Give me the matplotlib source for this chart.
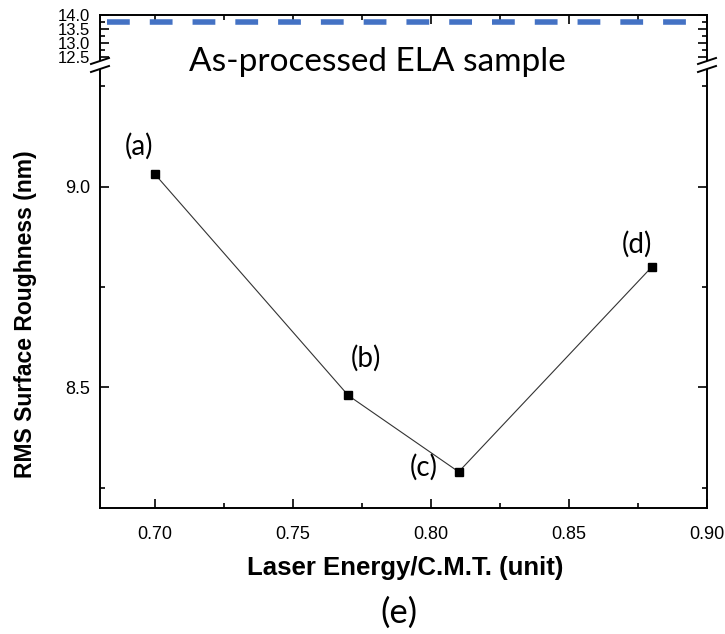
import matplotlib
matplotlib.use("Agg")
import matplotlib.pyplot as plt
from matplotlib.lines import Line2D
from matplotlib.patches import Polygon

# Roughness measurements
energy = [0.70, 0.77, 0.81, 0.88]
roughness = [9.03, 8.48, 8.29, 8.80]
point_labels = ["(a)", "(b)", "(c)", "(d)"]
label_offsets = [(-16, 28), (18, 37), (-35, 5), (-15, 23)]  # pixels

# Reference level of the as-processed sample
as_processed = 13.75

x_ticks = [0.70, 0.75, 0.80, 0.85, 0.90]
x_tick_labels = ["0.70", "0.75", "0.80", "0.85", "0.90"]
y_ticks_low = [8.5, 9.0]
y_ticks_high = [12.5, 13.0, 13.5, 14.0]

W, H = 725, 634
fig = plt.figure(figsize=(W / 100, H / 100), dpi=100)

left, right = 100 / W, 707 / W
hi_top, hi_bot = 1 - 15 / H, 1 - 60 / H
lo_top, lo_bot = 1 - 66 / H, 1 - 508 / H

ax_hi = fig.add_axes([left, hi_bot, right - left, hi_top - hi_bot])
ax_lo = fig.add_axes([left, lo_bot, right - left, lo_top - lo_bot])

tick_font = dict(family="Liberation Sans", size=13)
label_font = dict(family="Liberation Sans", weight="bold")
text_family = ["Lato", "DejaVu Sans"]

for ax in (ax_hi, ax_lo):
    ax.set_xlim(0.68, 0.90)
    ax.set_xticks(x_ticks)
    ax.set_xticks([0.725, 0.775, 0.825, 0.875], minor=True)
    ax.tick_params(which="both", direction="in", top=True, right=True, width=1.2)
    ax.tick_params(which="major", length=6.5)
    ax.tick_params(which="minor", length=3.5)
    for s in ax.spines.values():
        s.set_linewidth(1.4)

# Upper panel (compressed scale above the break)
ax_hi.set_ylim(12.4, 14.0)
ax_hi.set_yticks(y_ticks_high)
ax_hi.set_yticks([12.75, 13.25, 13.75], minor=True)
ax_hi.set_yticklabels([f"{v:.1f}" for v in y_ticks_high],
                      family="Liberation Sans", size=12)
ax_hi.tick_params(axis="y", pad=7)
ax_hi.tick_params(axis="x", labelbottom=False, bottom=False, which="both")
ax_hi.spines["bottom"].set_visible(False)
ax_hi.axhline(as_processed, xmin=0.012, xmax=0.993, color="#4472C4", lw=4,
              dashes=(4.1, 3.6), clip_on=False)

# Lower panel
ax_lo.set_ylim(8.2, 9.3)
ax_lo.set_yticks(y_ticks_low)
ax_lo.set_yticks([8.25, 8.75, 9.25], minor=True)
ax_lo.set_yticklabels([f"{v:.1f}" for v in y_ticks_low], **tick_font)
ax_lo.set_xticklabels(x_tick_labels, **tick_font)
ax_lo.tick_params(axis="x", pad=13)
ax_lo.tick_params(axis="y", pad=7)
ax_lo.tick_params(axis="x", top=False, which="both")
ax_lo.spines["top"].set_visible(False)

ax_lo.plot(energy, roughness, color="#333333", lw=0.8, marker="s",
           markersize=6, markerfacecolor="black", markeredgecolor="black")
for x, y, t, (dx, dy) in zip(energy, roughness, point_labels, label_offsets):
    ax_lo.annotate(t, (x, y), xytext=(dx, dy), textcoords="offset pixels",
                   ha="center", va="center", fontsize=20, family=text_family)

fig.text(405 / W, 1 - 568 / H, "Laser Energy/C.M.T. (unit)", ha="center",
         va="center", size=18.5, **label_font)
fig.text(26 / W, 1 - 314 / H, "RMS Surface Roughness (nm)", rotation=90,
         ha="center", va="center", size=16.5, **label_font)

fig.text(377 / W, 1 - 62 / H, "As-processed ELA sample", ha="center", va="center",
         fontsize=24, family=text_family)
fig.text(399 / W, 1 - 613 / H, "(e)", ha="center", va="center",
         fontsize=25, family=text_family)

# Axis break marks on both side spines
for xb in (100, 707):
    gap = Polygon([[(xb - 9) / W, 1 - 64 / H], [(xb + 9) / W, 1 - 58 / H],
                   [(xb + 9) / W, 1 - 66 / H], [(xb - 9) / W, 1 - 72 / H]],
                  closed=True, transform=fig.transFigure, facecolor="white",
                  edgecolor="none", zorder=5)
    fig.add_artist(gap)
    for y0 in (64, 72):
        fig.add_artist(Line2D([(xb - 9) / W, (xb + 9) / W],
                              [1 - y0 / H, 1 - (y0 - 6) / H],
                              transform=fig.transFigure, color="black",
                              lw=1.4, zorder=6))

fig.savefig("out.png", dpi=100)
